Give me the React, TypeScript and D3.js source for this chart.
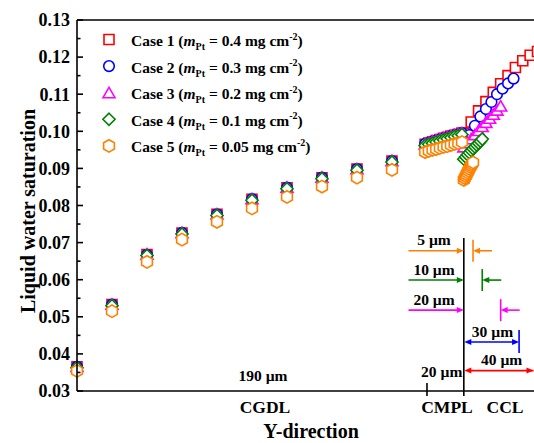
import React from 'react';
import * as d3 from 'd3';

const W = 534;
const H = 443;

// ---------- data ----------
const yTicks = [0.03, 0.04, 0.05, 0.06, 0.07, 0.08, 0.09, 0.1, 0.11, 0.12, 0.13];
const yTickLabels = ['0.03', '0.04', '0.05', '0.06', '0.07', '0.08', '0.09', '0.10', '0.11', '0.12', '0.13'];

// positions along the Y-direction (µm)
const gdlX = [0, 19, 38, 57, 76, 95, 114, 133, 152, 171];
const mplX = [189, 191, 193, 195, 197, 199, 201, 203, 205, 207, 209];

const case1Gdl = [0.0365, 0.0533, 0.0668, 0.0726, 0.0776, 0.0817, 0.0848, 0.0875, 0.0898, 0.092];
const case2Gdl = [0.0365, 0.0533, 0.0667, 0.0726, 0.0776, 0.0817, 0.0848, 0.0875, 0.0898, 0.092];
const case3Gdl = [0.0366, 0.0534, 0.0669, 0.0727, 0.0777, 0.0818, 0.0849, 0.0876, 0.0899, 0.0921];
const case4Gdl = [0.0363, 0.053, 0.0665, 0.0723, 0.0773, 0.0814, 0.0845, 0.0872, 0.0895, 0.0917];
const case5Gdl = [0.0354, 0.0515, 0.0648, 0.0708, 0.0756, 0.0792, 0.0823, 0.0851, 0.0875, 0.0896];

const case1Mpl = [0.0965, 0.0968, 0.0972, 0.0975, 0.0978, 0.0981, 0.0984, 0.0987, 0.0989, 0.0992, 0.0995];
const case2Mpl = [0.0966, 0.0969, 0.0972, 0.0975, 0.0978, 0.0981, 0.0984, 0.0987, 0.099, 0.0992, 0.0995];
const case3Mpl = [0.0966, 0.097, 0.0973, 0.0976, 0.0979, 0.0982, 0.0985, 0.0988, 0.099, 0.0993, 0.0996];
const case4Mpl = [0.0962, 0.0965, 0.0968, 0.0971, 0.0974, 0.0977, 0.098, 0.0983, 0.0986, 0.0988, 0.0991];
const case5Mpl = [0.0944, 0.0947, 0.095, 0.0952, 0.0955, 0.0958, 0.096, 0.0963, 0.0966, 0.0968, 0.0971];

const case1ClX = [210, 214, 218, 222, 226, 230, 234, 238, 242, 246, 250];
const case1Cl = [0.0995, 0.1025, 0.1055, 0.108, 0.1105, 0.1128, 0.115, 0.1172, 0.119, 0.1205, 0.1215];
const case2ClX = [210, 213, 216, 219, 222, 225, 228, 231, 234, 237];
const case2Cl = [0.0964, 0.099, 0.1015, 0.104, 0.106, 0.1079, 0.11, 0.1115, 0.1129, 0.1142];
const case3ClX = [210, 212, 214, 216, 218, 220, 222, 224, 226, 228, 230];
const case3Cl = [0.0958, 0.0969, 0.098, 0.0991, 0.1002, 0.1013, 0.1024, 0.1035, 0.1046, 0.1057, 0.1068];
const case4ClX = [210, 211, 212, 213, 214, 215, 216, 217, 218, 219, 220];
const case4Cl = [0.0925, 0.0931, 0.0937, 0.0942, 0.0948, 0.0953, 0.0958, 0.0963, 0.0968, 0.0973, 0.0979];
const case5ClX = [210, 210.5, 211, 211.5, 212, 212.5, 213, 213.5, 214, 214.5, 215];
const case5Cl = [0.0869, 0.0874, 0.0879, 0.0884, 0.0889, 0.0894, 0.0899, 0.0904, 0.0908, 0.0912, 0.0916];

const caseNames = ['Case 1', 'Case 2', 'Case 3', 'Case 4', 'Case 5'];
const caseLoadings = ['0.4', '0.3', '0.2', '0.1', '0.05'];
const caseColors = ['#ff0000', '#0000ff', '#ff00ff', '#008000', '#ff8000'];
const caseShapes = ['square', 'circle', 'triangle', 'diamond', 'hexagon'];

const layerLabels = ['CGDL', 'CMPL', 'CCL'];
const layerBounds = [0, 190, 210, 250];

// thickness annotations (µm) and the saturation level they are drawn at
const oneSidedThickness = [5, 10, 20];
const oneSidedColors = ['#ff8000', '#008000', '#ff00ff'];
const oneSidedLevels = [0.0678, 0.0599, 0.0518];
const twoSidedThickness = [30, 40];
const twoSidedColors = ['#0000ff', '#ff0000'];
const twoSidedLevels = [0.0432, 0.0355];

// ---------- helpers ----------
const FONT = '"Liberation Serif", "Times New Roman", Times, serif';

function Marker({ shape, x, y, color }: { shape: string; x: number; y: number; color: string }) {
  const common = { fill: '#fff', stroke: color, strokeWidth: 1.6 };
  if (shape === 'circle') return <circle cx={x} cy={y} r={5.3} {...common} />;
  let pts: [number, number][] = [];
  if (shape === 'square') pts = [[-5, -5], [5, -5], [5, 5], [-5, 5]];
  if (shape === 'triangle') pts = [[0, -5.4], [6, 5], [-6, 5]];
  if (shape === 'diamond') pts = [[0, -6.1], [6.1, 0], [0, 6.1], [-6.1, 0]];
  if (shape === 'hexagon')
    pts = d3.range(6).map((k) => {
      const a = ((-90 + 60 * k) * Math.PI) / 180;
      return [6.2 * Math.cos(a), 6.2 * Math.sin(a)] as [number, number];
    });
  const line = d3.line();
  return <path d={line(pts.map(([a, b]) => [x + a, y + b]))! + 'Z'} {...common} />;
}

function Arrow({ x, y, dir, color }: { x: number; y: number; dir: number; color: string }) {
  // tip at (x,y), pointing in direction dir (+1 right, -1 left)
  const L = 7, w = 3;
  const d = `M${x},${y}L${x - dir * L},${y - w}L${x - dir * L},${y + w}Z`;
  return <path d={d} fill={color} />;
}

export default function App() {
  const x = d3.scaleLinear().domain([0, 250]).range([77, 537.5]);
  const y = d3.scaleLinear().domain([0.03, 0.13]).range([391, 20]);

  const series = [
    { gdl: case1Gdl, mpl: case1Mpl, clX: case1ClX, cl: case1Cl },
    { gdl: case2Gdl, mpl: case2Mpl, clX: case2ClX, cl: case2Cl },
    { gdl: case3Gdl, mpl: case3Mpl, clX: case3ClX, cl: case3Cl },
    { gdl: case4Gdl, mpl: case4Mpl, clX: case4ClX, cl: case4Cl },
    { gdl: case5Gdl, mpl: case5Mpl, clX: case5ClX, cl: case5Cl },
  ].map((s) => [
    ...gdlX.map((v, i) => [v, s.gdl[i]]),
    ...mplX.map((v, i) => [v, s.mpl[i]]),
    ...s.clX.map((v, i) => [v, s.cl[i]]),
  ]);

  const x0 = x(0);
  const yBottom = y(0.03);
  const yTop = y(0.13);
  const minor = yTicks.slice(0, -1).map((t) => t + 0.005);
  const xCL = x(layerBounds[2]);
  const xMPL = x(layerBounds[1]);

  const legendX = 109;
  const legendY0 = 39.5;
  const legendDy = 26.6;

  return (
    <svg
      width={W}
      height={H}
      style={{ position: 'absolute', left: 0, top: 0, overflow: 'hidden', background: '#fff' }}
      fontFamily={FONT}
      fontWeight="bold"
    >
      <rect x={0} y={0} width={W} height={H} fill="#fff" />

      {/* data */}
      {series.map((pts, si) => (
        <g key={si}>
          {pts.map(([px, py], i) => (
            <Marker key={i} shape={caseShapes[si]} x={x(px)} y={y(py)} color={caseColors[si]} />
          ))}
        </g>
      ))}

      {/* frame / axes */}
      <g stroke="#000" strokeWidth={1.6} fill="none">
        <line x1={x0} y1={yTop} x2={x0} y2={yBottom} />
        <line x1={x0} y1={yBottom} x2={W + 5} y2={yBottom} />
        <line x1={x0} y1={yTop} x2={W + 5} y2={yTop} />
        {yTicks.map((t, i) => (
          <line key={'M' + i} x1={x0} x2={x0 + 6} y1={y(t)} y2={y(t)} />
        ))}
        {minor.map((t, i) => (
          <line key={'m' + i} x1={x0} x2={x0 + 3.5} y1={y(t)} y2={y(t)} />
        ))}
        <line x1={xMPL} x2={xMPL} y1={yBottom - 8} y2={yBottom + 5} />
        <line x1={xCL} x2={xCL} y1={238} y2={yBottom + 5} />
      </g>

      {/* y tick labels */}
      {yTicks.map((t, i) => (
        <text key={i} x={70} y={y(t)} dy="0.35em" textAnchor="end" fontSize={18}>
          {yTickLabels[i]}
        </text>
      ))}

      {/* axis titles */}
      <text transform={`translate(35,211) rotate(-90)`} textAnchor="middle" fontSize={20}>
        Liquid water saturation
      </text>
      <text x={311} y={438} textAnchor="middle" fontSize={20}>
        Y-direction
      </text>

      {/* layer labels */}
      <text x={265} y={413} textAnchor="middle" fontSize={17.5}>{layerLabels[0]}</text>
      <text x={447} y={413} textAnchor="middle" fontSize={17.5}>{layerLabels[1]}</text>
      <text x={505} y={413} textAnchor="middle" fontSize={17.5}>{layerLabels[2]}</text>

      {/* layer thickness labels */}
      <text x={x(101)} y={381} textAnchor="middle" fontSize={15.5}>
        {`${layerBounds[1] - layerBounds[0]} µm`}
      </text>
      <text x={xCL - 1.5} y={377} textAnchor="end" fontSize={15.5}>
        {`${layerBounds[2] - layerBounds[1]} µm`}
      </text>

      {/* one-sided thickness arrows */}
      {oneSidedThickness.map((t, i) => {
        const yy = y(oneSidedLevels[i]);
        const xt = x(layerBounds[2] + t);
        const c = oneSidedColors[i];
        return (
          <g key={'o' + i}>
            <line x1={408.5} x2={xCL - 4} y1={yy} y2={yy} stroke={c} strokeWidth={1.6} />
            <Arrow x={xCL} y={yy} dir={1} color={c} />
            <line x1={xt + 4} x2={xt + 19} y1={yy} y2={yy} stroke={c} strokeWidth={1.6} />
            <Arrow x={xt} y={yy} dir={-1} color={c} />
            <line x1={xt} x2={xt} y1={yy - 11} y2={yy + 11} stroke={c} strokeWidth={1.6} />
            <text x={434} y={yy - 5.5} textAnchor="middle" fontSize={15.5}>{`${t} µm`}</text>
          </g>
        );
      })}

      {/* two-sided thickness arrows */}
      {twoSidedThickness.map((t, i) => {
        const yy = y(twoSidedLevels[i]);
        const xt = x(layerBounds[2] + t);
        const c = twoSidedColors[i];
        return (
          <g key={'t' + i}>
            <line x1={xCL + 4} x2={xt - 4} y1={yy} y2={yy} stroke={c} strokeWidth={1.6} />
            <Arrow x={xCL + 0.5} y={yy} dir={-1} color={c} />
            <Arrow x={Math.min(xt, 533.5)} y={yy} dir={1} color={c} />
            {i === 0 && <line x1={xt} x2={xt} y1={yy - 12} y2={yy + 11} stroke={c} strokeWidth={1.6} />}
            <text x={(xCL + Math.min(xt, 538)) / 2 + 1} y={yy - 5.5} textAnchor="middle" fontSize={15.5}>
              {`${t} µm`}
            </text>
          </g>
        );
      })}

      {/* legend */}
      {caseNames.map((n, i) => {
        const cy = legendY0 + i * legendDy;
        return (
          <g key={'l' + i}>
            <Marker shape={caseShapes[i]} x={legendX} y={cy} color={caseColors[i]} />
            <text x={131} y={cy + 6.5} fontSize={15.5}>
              {`${n} (`}
              <tspan fontStyle="italic">m</tspan>
              <tspan fontSize={10} dy={4}>Pt</tspan>
              <tspan dy={-4}>{` = ${caseLoadings[i]} mg cm`}</tspan>
              <tspan fontSize={10} dy={-6.5}>-2</tspan>
              <tspan dy={6.5}>)</tspan>
            </text>
          </g>
        );
      })}
    </svg>
  );
}
